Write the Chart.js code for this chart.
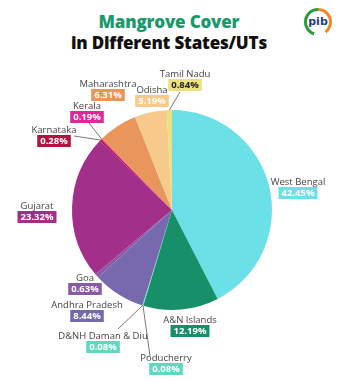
<!DOCTYPE html>
<html><head><meta charset="utf-8">
<script src="https://cdn.jsdelivr.net/npm/chart.js@4/dist/chart.umd.min.js"></script>
<style>
html,body{margin:0;padding:0;background:#fff;width:338px;height:381px;overflow:hidden;}
#wrap{position:relative;width:338px;height:381px;}
canvas{position:absolute;left:0;top:0;}
.t1,.t2{position:absolute;left:0;width:338px;text-align:center;font-family:"Open Sans",sans-serif;font-weight:800;font-size:17px;letter-spacing:-0.2px;}
.t1{top:10px;color:#1a9a6a;}
.t2{top:31px;color:#111;}
#logo{position:absolute;left:304px;top:8px;width:28px;height:28px;border-radius:50%;background:conic-gradient(#f08a24 0 40%,#fff 40% 55%,#2c9a3c 55% 100%);}
#logo div{position:absolute;left:3px;top:3px;width:22px;height:22px;border-radius:50%;background:#fff;font:bold 11px "DejaVu Sans",sans-serif;color:#1d3f8a;text-align:center;line-height:22px;}
</style></head>
<body><div id="wrap">
<div class="t1">Mangrove Cover</div>
<div class="t2">in Different States/UTs</div>
<div id="logo"><div>pib</div></div>
<canvas id="c" width="338" height="381"></canvas>
</div>
<script>
const states = ["West Bengal","A&N Islands","Poducherry","D&NH Daman & Diu","Andhra Pradesh","Goa","Gujarat","Karnataka","Kerala","Maharashtra","Odisha","Tamil Nadu"];
const shares = [42.45,12.19,0.08,0.08,8.44,0.63,23.32,0.28,0.19,6.31,5.19,0.84];
const pctLabels = ["42.45%","12.19%","0.08%","0.08%","8.44%","0.63%","23.32%","0.28%","0.19%","6.31%","5.19%","0.84%"];

const colors = ["#6be0e7","#17906a","#5fd8c0","#5fd8c0","#7669ae","#8a5aa8","#a2308a","#b3143f","#e0289b","#e8965b","#f7c98b","#ede07e"];
const pctText = ["#fff","#fff","#fff","#fff","#fff","#fff","#fff","#fff","#fff","#fff","#fff","#222"];
// label positions (name center x, name y) and leader-line anchor (null = no line)
const labelPos = [[298,182],[190,320],[166,358],[103,336],[87,305],[85,278],[37,206],[54,130],[87,106],[108,84],[152,90],[185,74]];
const anchors = [null,null,[150,356],[118,329],null,null,null,[74,136],[89,123],null,null,[180,92]];

const labelPlugin = {
  id:'labels',
  afterDraw(chart){
    const ctx = chart.ctx;
    const meta = chart.getDatasetMeta(0);
    ctx.save();
    meta.data.forEach((arc,i)=>{
      const p = arc.getProps(['x','y','startAngle','endAngle','outerRadius'],true);
      const a = anchors[i];
      if(a){
        const mid=(p.startAngle+p.endAngle)/2;
        const ex=p.x+Math.cos(mid)*p.outerRadius, ey=p.y+Math.sin(mid)*p.outerRadius;
        ctx.strokeStyle='#555';ctx.lineWidth=0.8;
        ctx.beginPath();ctx.moveTo(ex,ey);ctx.lineTo(a[0],a[1]);ctx.stroke();
      }
      const [lx,ly]=labelPos[i];
      ctx.textAlign='center';ctx.textBaseline='middle';
      ctx.font='9.5px "Open Sans", sans-serif';
      ctx.fillStyle='#444';
      ctx.fillText(states[i],lx,ly);
      ctx.font='bold 9.5px "Open Sans", sans-serif';
      const w=ctx.measureText(pctLabels[i]).width+6;
      ctx.fillStyle=colors[i];
      ctx.fillRect(lx-w/2,ly+5,w,12);
      ctx.fillStyle=pctText[i];
      ctx.fillText(pctLabels[i],lx,ly+11.5);
    });
    ctx.restore();
  }
};

new Chart(document.getElementById('c'),{
  type:'pie',
  data:{labels:states,datasets:[{data:shares,backgroundColor:colors,borderWidth:0}]},
  options:{
    responsive:false,animation:false,
    layout:{padding:{left:72,right:66,top:110,bottom:71}},
    plugins:{legend:{display:false},tooltip:{enabled:false},title:{display:false}}
  },
  plugins:[labelPlugin]
});
</script>
</body></html>
